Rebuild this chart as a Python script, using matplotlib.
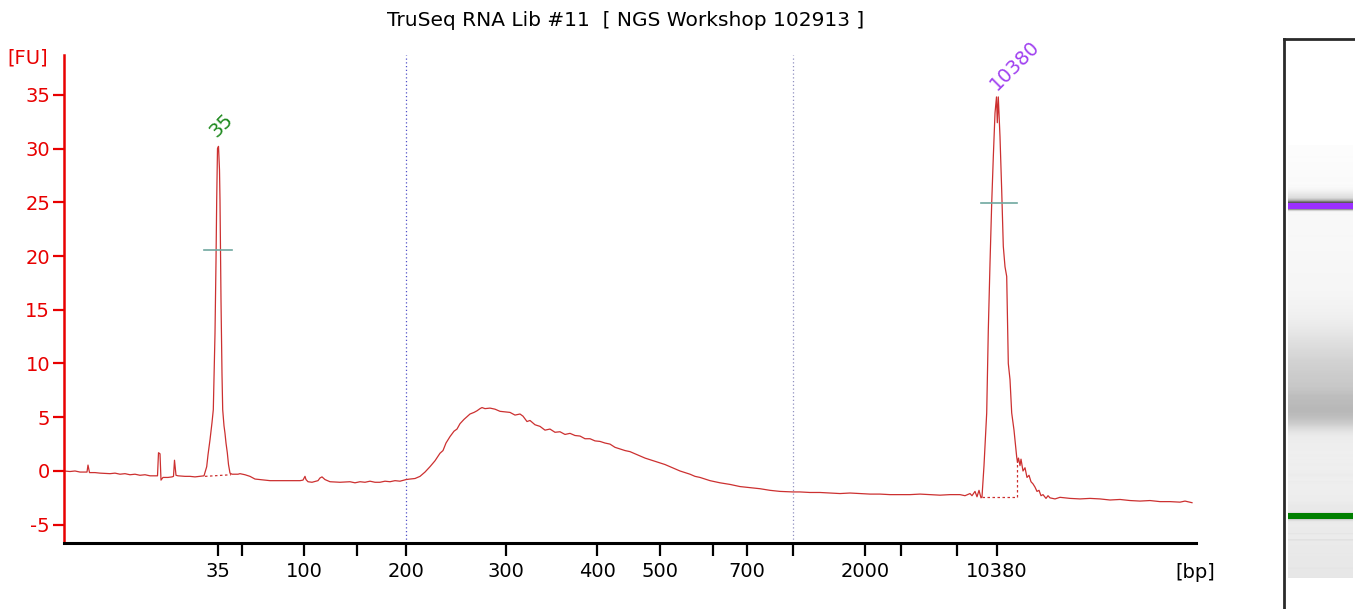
import numpy as np
import matplotlib
matplotlib.use("Agg")
import matplotlib.pyplot as plt

# ---------------- data ----------------
title = "TruSeq RNA Lib #11  [ NGS Workshop 102913 ]"

# migration position (plot units) and fluorescence [FU]
trace_x = [64, 70, 75, 80, 87, 88, 89.5, 95, 100, 110, 115, 120, 125, 130, 135, 140, 145, 150, 155,
           157.5, 158.5, 160, 161, 163, 168, 172, 173.5, 174.5, 176, 178, 185, 190, 195, 200, 204,
           206.7, 208, 210, 212, 213.3, 214, 215, 216, 216.7, 217.5, 218.5, 219.5, 220, 221, 222,
           222.7, 224, 225, 226, 227.3, 228.5, 230, 232, 238, 240, 245, 250, 255, 260, 270, 280,
           290, 300, 303, 305, 306, 308, 312, 318, 320, 322, 325, 330, 340, 350, 355, 360, 365,
           370, 375, 380, 385, 390, 395, 400, 406, 410, 415, 420, 425, 430, 435, 440, 443, 446,
           450, 454, 457, 460, 464, 467, 470, 474, 477, 480, 482, 485, 490, 495, 500, 505, 510,
           515, 520, 523, 527, 530, 535, 540, 545, 550, 555, 560, 565, 570, 575, 580, 585, 590,
           595, 600, 605, 610, 615, 620, 625, 630, 635, 640, 645, 650, 655, 660, 665, 670, 675,
           680, 685, 690, 695, 700, 710, 720, 730, 740, 750, 760, 770, 780, 793, 800, 810, 820,
           830, 840, 850, 860, 870, 880, 890, 900, 910, 920, 930, 940, 950, 960, 965, 970, 972,
           975, 977, 979, 981, 982, 984, 986.7, 988.3, 990, 991.7, 993.3, 995, 996.5, 997.3,
           998.3, 1000, 1001.7, 1003.3, 1005, 1006.7, 1008.3, 1009.5, 1010, 1011.7, 1014, 1016.7,
           1017.5, 1018.5, 1020, 1021, 1023, 1025, 1027, 1029, 1031, 1033, 1035, 1037, 1039, 1041,
           1043, 1046, 1048, 1050, 1055, 1060, 1065, 1070, 1080, 1090, 1100, 1110, 1120, 1130,
           1140, 1150, 1160, 1170, 1180, 1185, 1192]
trace_fu = [0.0, -0.05, 0.0, -0.1, -0.1, 0.55, -0.15, -0.15, -0.2, -0.25, -0.2, -0.3, -0.25, -0.35,
            -0.3, -0.4, -0.35, -0.45, -0.45, -0.45, 1.7, 1.6, -0.85, -0.6, -0.6, -0.55, -0.5, 1.0,
            -0.4, -0.45, -0.5, -0.5, -0.55, -0.5, -0.45, 0.4, 1.5, 2.9, 4.5, 5.7, 8.5, 12.8, 19.5,
            25.2, 30.0, 30.2, 28.0, 25.2, 15.9, 9.0, 5.7, 4.2, 3.5, 2.6, 1.7, 0.6, -0.2, -0.3, -0.3,
            -0.25, -0.35, -0.5, -0.75, -0.8, -0.9, -0.9, -0.9, -0.9, -0.85, -0.5, -0.8, -1.0, -1.05,
            -0.9, -0.65, -0.55, -0.8, -1.0, -1.05, -1.0, -1.1, -1.0, -1.05, -0.95, -1.05, -1.05,
            -0.95, -1.0, -0.9, -0.95, -0.8, -0.75, -0.7, -0.5, -0.1, 0.4, 0.95, 1.65, 1.9, 2.6, 3.2,
            3.7, 3.9, 4.4, 4.8, 5.05, 5.3, 5.45, 5.6, 5.8, 5.9, 5.8, 5.85, 5.75, 5.55, 5.5, 5.45,
            5.2, 5.3, 5.1, 4.6, 4.7, 4.3, 4.15, 3.8, 3.9, 3.6, 3.65, 3.4, 3.5, 3.3, 3.25, 3.0, 3.0,
            2.8, 2.75, 2.6, 2.5, 2.2, 2.05, 1.9, 1.8, 1.6, 1.4, 1.2, 1.05, 0.9, 0.75, 0.6, 0.4, 0.2,
            0.0, -0.15, -0.3, -0.5, -0.6, -0.9, -1.1, -1.25, -1.45, -1.55, -1.65, -1.8, -1.9, -1.95,
            -1.95, -2.0, -2.0, -2.05, -2.1, -2.05, -2.1, -2.15, -2.15, -2.2, -2.2, -2.2, -2.15, -2.2,
            -2.25, -2.2, -2.2, -2.3, -2.1, -2.3, -1.9, -2.4, -1.8, -2.5, -2.4, 0.5, 5.4, 13.1, 19.3,
            24.9, 29.2, 33.3, 34.8, 32.4, 34.8, 31.1, 26.1, 20.9, 19.0, 18.1, 10.0, 9.0, 8.5, 5.4,
            3.8, 1.3, 0.8, 1.2, 0.5, 1.1, 0.0, 0.3, -0.6, -0.4, -1.0, -1.2, -1.5, -1.9, -1.8, -2.3,
            -2.2, -2.55, -2.3, -2.5, -2.6, -2.45, -2.5, -2.55, -2.6, -2.55, -2.6, -2.7, -2.65,
            -2.75, -2.8, -2.75, -2.85, -2.85, -2.9, -2.8, -2.95]

# size axis (ladder positions and labels)
tick_pos = [218, 242, 304, 357, 406, 506, 597, 660, 713, 747, 793, 865, 901, 957, 997]
tick_labels = ["35", "", "100", "", "200", "300", "400", "500", "", "700", "", "2000", "", "", "10380"]
yticks = [-5, 0, 5, 10, 15, 20, 25, 30, 35]

# peaks: label, position, start, end, baseline start/end FU, half-height FU, colour
peak_labels = ["35", "10380"]
peak_pos = [218.3, 997.0]
peak_start = [205, 982]
peak_end = [231, 1017]
peak_base = [(-0.5, -0.35), (-2.45, -2.45)]
peak_half = [20.6, 24.9]
peak_half_span = [(204.3, 231.7), (980.7, 1016.7)]
peak_colors = ["#1f8a1f", "#a040f0"]
band_colors = ["#008000", "#9b30ff"]

# region markers
region_x = [406, 793]

# ---------------- figure ----------------
W, H = 1355, 609
fig = plt.figure(figsize=(W / 100, H / 100), dpi=100)
fig.patch.set_facecolor("white")

L, R, T, B = 64, 1196, 55, 543
ax = fig.add_axes([L / W, (H - B) / H, (R - L) / W, (B - T) / H])
ax.set_xlim(L, R)
ax.set_ylim(-6.70, 38.70)

red = "#e80000"
ax.spines["top"].set_visible(False)
ax.spines["right"].set_visible(False)
ax.spines["left"].set_color(red)
ax.spines["left"].set_linewidth(1.8)
ax.spines["bottom"].set_color("black")
ax.spines["bottom"].set_linewidth(2.2)

ax.set_yticks(yticks)
ax.set_yticklabels([str(v) for v in yticks])
ax.tick_params(axis="y", colors=red, labelcolor=red, length=8, width=1.6,
               labelsize=14, pad=2)
ax.set_xticks(tick_pos)
ax.set_xticklabels(tick_labels)
ax.tick_params(axis="x", colors="black", length=9, width=1.6, labelsize=14, pad=5)

# region dotted lines
ax.axvline(region_x[0], color="#5050c8", lw=0.9, ls=(0, (1, 2)))
ax.axvline(region_x[1], color="#9090c0", lw=0.9, ls=(0, (1, 2)))

# trace
trace_col = "#cc3030"
ax.plot(trace_x, trace_fu, color=trace_col, lw=0.9)

# peak decorations
label_dx = [10, 24]
label_dy = [1.3, 2.3]
for i in range(len(peak_labels)):
    b0, b1 = peak_base[i]
    ax.plot([peak_start[i], peak_end[i]], [b0, b1], color=trace_col, lw=0.9, ls=(0, (2, 2)))
    h0, h1 = peak_half_span[i]
    ax.plot([h0, h1], [peak_half[i], peak_half[i]], color="#6fa8a0", lw=1.2)
    ytop = max(v for x, v in zip(trace_x, trace_fu) if peak_start[i] <= x <= peak_end[i])
    ax.text(peak_pos[i] + label_dx[i], ytop + label_dy[i], peak_labels[i], color=peak_colors[i],
            fontsize=14, rotation=45, ha="center", va="bottom", rotation_mode="anchor")
# end marker of the upper peak baseline
ax.plot([peak_end[1], peak_end[1]], [peak_base[1][1], 0.9], color=trace_col, lw=0.9, ls=(0, (2, 2)))

fig.text(28 / W, 1 - 58 / H, "[FU]", color=red, fontsize=14, ha="center", va="center")
fig.text(1195 / W, 1 - 573 / H, "[bp]", color="black", fontsize=14, ha="center", va="center")
fig.text(626 / W, 1 - 20 / H, title, color="black", fontsize=14.5, ha="center", va="center")

# ---------------- gel-like lane ----------------
gx0 = 1284
gax = fig.add_axes([gx0 / W, -0.05, 0.1, (H - 39) / H + 0.05])
gax.set_xlim(gx0, gx0 + 0.1 * W)
gax.set_ylim(H + 0.05 * H, 39)
for s in ["right", "bottom"]:
    gax.spines[s].set_visible(False)
for s in ["left", "top"]:
    gax.spines[s].set_color("#2a2a2a")
    gax.spines[s].set_linewidth(2.0)
gax.set_xticks([])
gax.set_yticks([])

lane_top, lane_bot = 145, 578
gel_lo, gel_hi = 516.0, 205.5  # gel rows of lower / upper marker
px_lo, px_hi = peak_pos
rows = np.arange(lane_top, lane_bot, 0.5)
pos = px_lo + (gel_lo - rows) * (px_hi - px_lo) / (gel_lo - gel_hi)
v = np.interp(pos, trace_x, trace_fu)
g = np.clip(0.952 - 0.031 * (v + 1.5), 0.35, 0.995)
img = np.repeat(g[:, None, None], 3, axis=2)
gax.imshow(img, extent=[1288, 1353, lane_bot, lane_top], aspect="auto",
           interpolation="bilinear", zorder=1)
for i, c in enumerate(band_colors):
    yc = gel_lo if i == 0 else gel_hi
    gax.axhspan(yc - 3, yc + 3, xmin=(1288 - gx0) / (0.1 * W), xmax=(1353 - gx0) / (0.1 * W),
                color=c, lw=0, zorder=2)

fig.savefig("out.png", dpi=100, facecolor="white")
